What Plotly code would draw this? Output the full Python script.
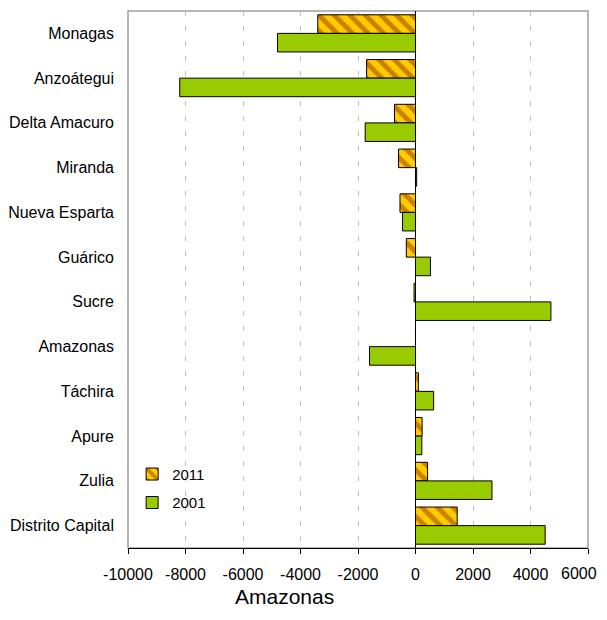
import plotly.graph_objects as go

estados = ["Monagas", "Anzoátegui", "Delta Amacuro", "Miranda", "Nueva Esparta", "Guárico",
           "Sucre", "Amazonas", "Táchira", "Apure", "Zulia", "Distrito Capital"]
v2011 = [-3400, -1700, -730, -590, -540, -320, -50, 0, 100, 230, 420, 1450]
v2001 = [-4800, -8200, -1750, 40, -450, 520, 4710, -1600, 630, 220, 2660, 4510]
x_ticks = [-10000, -8000, -6000, -4000, -2000, 0, 2000, 4000, 6000]

fig = go.Figure()
fig.add_trace(go.Bar(
    y=estados, x=v2011, name="2011", orientation="h", legendgroup="a",
    marker=dict(color="#FFCC00", line=dict(color="black", width=1),
                pattern=dict(shape="\\", fgcolor="#993300", size=11, solidity=0.45)),
))
fig.add_trace(go.Bar(
    y=estados, x=v2001, name="2001", orientation="h", legendgroup="b",
    marker=dict(color="#99CC00", line=dict(color="black", width=1)),
))

# the page body has an 8px margin, so keep the figure inside the window
fig.update_layout(
    width=599, height=604,
    margin=dict(l=120, r=19, t=3, b=64),
    plot_bgcolor="white", paper_bgcolor="white",
    barmode="group", bargap=0.17, bargroupgap=0,
    font=dict(family="Liberation Sans, Arial", size=16, color="black"),
    legend=dict(x=0.009, y=0.168, xanchor="left", yanchor="top",
                traceorder="grouped", tracegroupgap=6,
                font=dict(size=15), bgcolor="rgba(0,0,0,0)",
                itemwidth=30),
    showlegend=True,
)
# last tick label would be cut by the window edge, so it goes in an annotation
fig.update_xaxes(
    range=[-10000, 6000], tickvals=x_ticks,
    ticktext=[str(t) for t in x_ticks[:-1]] + [""],
    showgrid=True, gridcolor="#C0C0C0", griddash="5px,10px", gridwidth=1,
    zeroline=True, zerolinecolor="black", zerolinewidth=1,
    showline=True, linecolor="black", linewidth=1,
    ticks="outside", ticklen=5, tickcolor="black", automargin=False,
    ticklabelstandoff=7,
)
fig.update_yaxes(
    autorange="reversed", showgrid=False, zeroline=False,
    ticks="", ticklabelstandoff=13, automargin=False,
)
fig.add_shape(type="rect", xref="paper", yref="paper", x0=0, x1=1, y0=0, y1=1,
              line=dict(color="#A0A0A0", width=1.5), layer="below")
fig.add_annotation(text=str(x_ticks[-1]), xref="paper", yref="paper", x=1, y=-0.0466,
                   xanchor="right", yanchor="middle", xshift=11, showarrow=False,
                   font=dict(size=16))
fig.add_annotation(text="Amazonas", xref="paper", yref="paper", x=0.341, y=-0.091,
                   showarrow=False, font=dict(size=21), xanchor="center", yanchor="middle")

fig.write_html("out.html")
